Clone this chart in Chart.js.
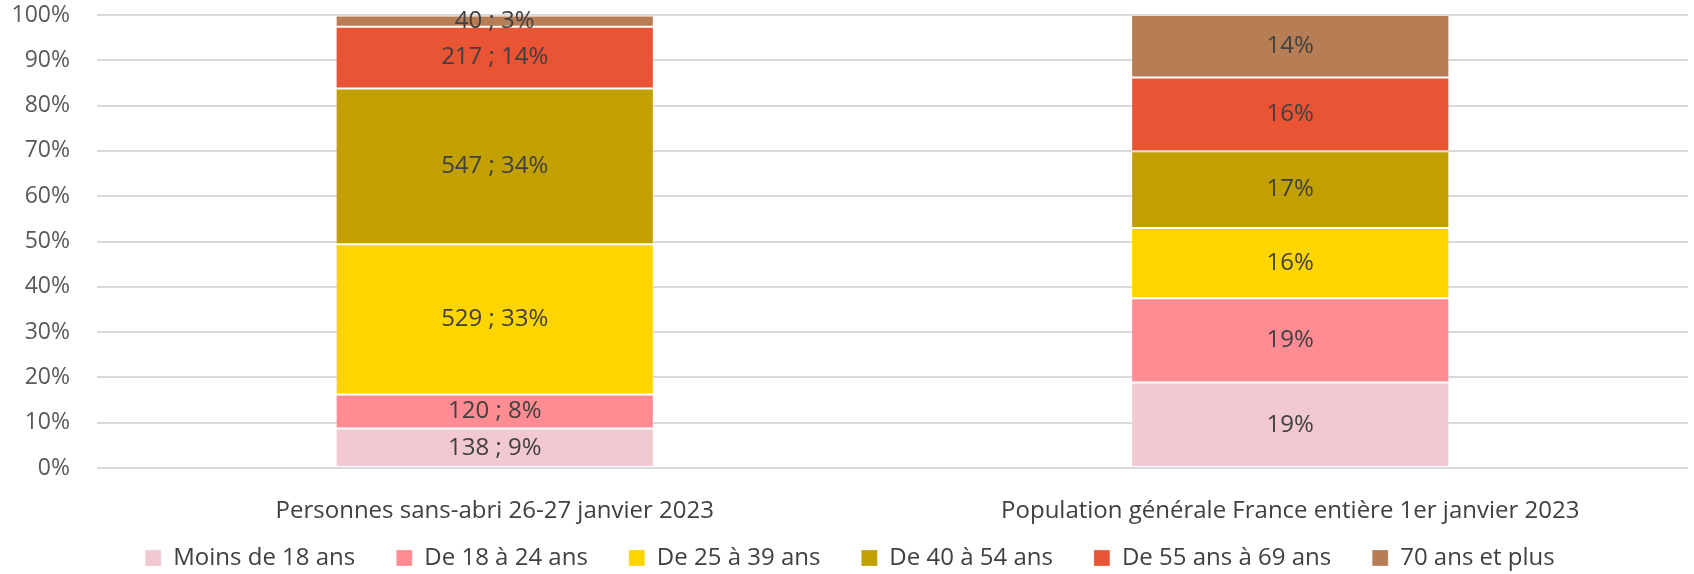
<!DOCTYPE html>
<html lang="fr">
<head>
<meta charset="utf-8">
<script src="https://cdn.jsdelivr.net/npm/chart.js@4"></script>
<style>
    html, body { margin: 0; padding: 0; background: #fff; }
    #wrap { width: 1694px; height: 574px; }
</style>
</head>
<body>
<div id="wrap"><canvas id="ageChart"></canvas></div>
<script>
const categories = ["Personnes sans-abri 26-27 janvier 2023", "Population générale France entière 1er janvier 2023"];
const ageGroups = ["Moins de 18 ans", "De 18 à 24 ans", "De 25 à 39 ans", "De 40 à 54 ans", "De 55 ans à 69 ans", "70 ans et plus"];

// personnes sans-abri : effectifs et parts (%)
const sansAbriCounts = [138, 120, 529, 547, 217, 40];
const sansAbriShares = [8.7, 7.5, 33.2, 34.4, 13.6, 2.5];
const sansAbriLabels = ["9%", "8%", "33%", "34%", "14%", "3%"];
// population générale : parts (%)
const populationShares = [18.9, 18.6, 15.5, 16.9, 16.3, 13.8];
const populationLabels = ["19%", "19%", "16%", "17%", "16%", "14%"];

const yTicks = [0, 10, 20, 30, 40, 50, 60, 70, 80, 90, 100];
const colors = ['#F2C9D1', '#FF8C93', '#FFD500', '#C1A000', '#E95434', '#B77E56'];

const FONT = "'Open Sans', sans-serif";
const LEGEND_HEIGHT = 36;
const LEGEND_TOP = 505;

const datasets = ageGroups.map((name, i) => ({
    label: name,
    data: [sansAbriShares[i], populationShares[i]],
    backgroundColor: colors[i],
    borderColor: 'rgba(255,255,255,0.25)',
    borderWidth: 1,
    borderSkipped: false,
    barPercentage: 0.8,
    categoryPercentage: 0.5
}));

// etiquettes au centre de chaque segment
const segmentLabels = {
    id: 'segmentLabels',
    afterDatasetsDraw(chart) {
        const ctx = chart.ctx;
        ctx.save();
        ctx.fillStyle = '#404040';
        ctx.font = '24px ' + FONT;
        ctx.textAlign = 'center';
        ctx.textBaseline = 'middle';
        chart.data.datasets.forEach((ds, i) => {
            const meta = chart.getDatasetMeta(i);
            meta.data.forEach((bar, j) => {
                const text = j === 0
                    ? sansAbriCounts[i] + ' ; ' + sansAbriLabels[i]
                    : populationLabels[i];
                ctx.fillText(text, bar.x, (bar.y + bar.base) / 2);
            });
        });
        ctx.restore();
    }
};

// legende plus basse et plus compacte que celle par defaut
const compactLegend = {
    id: 'compactLegend',
    beforeLayout(chart) {
        const legend = chart.legend;
        if (legend && !legend._compact) {
            const fit = legend.fit;
            legend.fit = function () {
                fit.call(this);
                this.height = LEGEND_HEIGHT;
            };
            legend._compact = true;
        }
    },
    afterLayout(chart) {
        chart.legend.top = LEGEND_TOP;
    }
};

const chart = new Chart(document.getElementById('ageChart').getContext('2d'), {
    type: 'bar',
    data: { labels: categories, datasets: datasets },
    options: {
        responsive: true,
        maintainAspectRatio: false,
        animation: false,
        layout: { padding: { top: 0, right: 6, left: 12, bottom: 0 } },
        plugins: {
            tooltip: { enabled: false },
            legend: {
                position: 'bottom',
                labels: {
                    color: '#404040',
                    font: { family: FONT, size: 24 },
                    boxWidth: 16,
                    boxHeight: 16,
                    padding: 41
                }
            }
        },
        scales: {
            x: {
                stacked: true,
                grid: { display: false },
                border: { display: false },
                ticks: { color: '#404040', font: { family: FONT, size: 24 }, padding: 21 },
                afterFit(scale) { scale.height = 70; }
            },
            y: {
                stacked: true,
                min: 0,
                max: 100,
                afterBuildTicks(axis) { axis.ticks = yTicks.map(v => ({ value: v })); },
                afterFit(scale) { scale.width = 85; scale.paddingTop = 15; },
                grid: { color: '#D9D9D9', lineWidth: 2, drawTicks: false },
                border: { display: false },
                ticks: {
                    color: '#595959',
                    font: { family: FONT, size: 23 },
                    padding: 27,
                    callback: v => v + '%'
                }
            }
        }
    },
    plugins: [segmentLabels, compactLegend]
});
</script>
</body>
</html>
